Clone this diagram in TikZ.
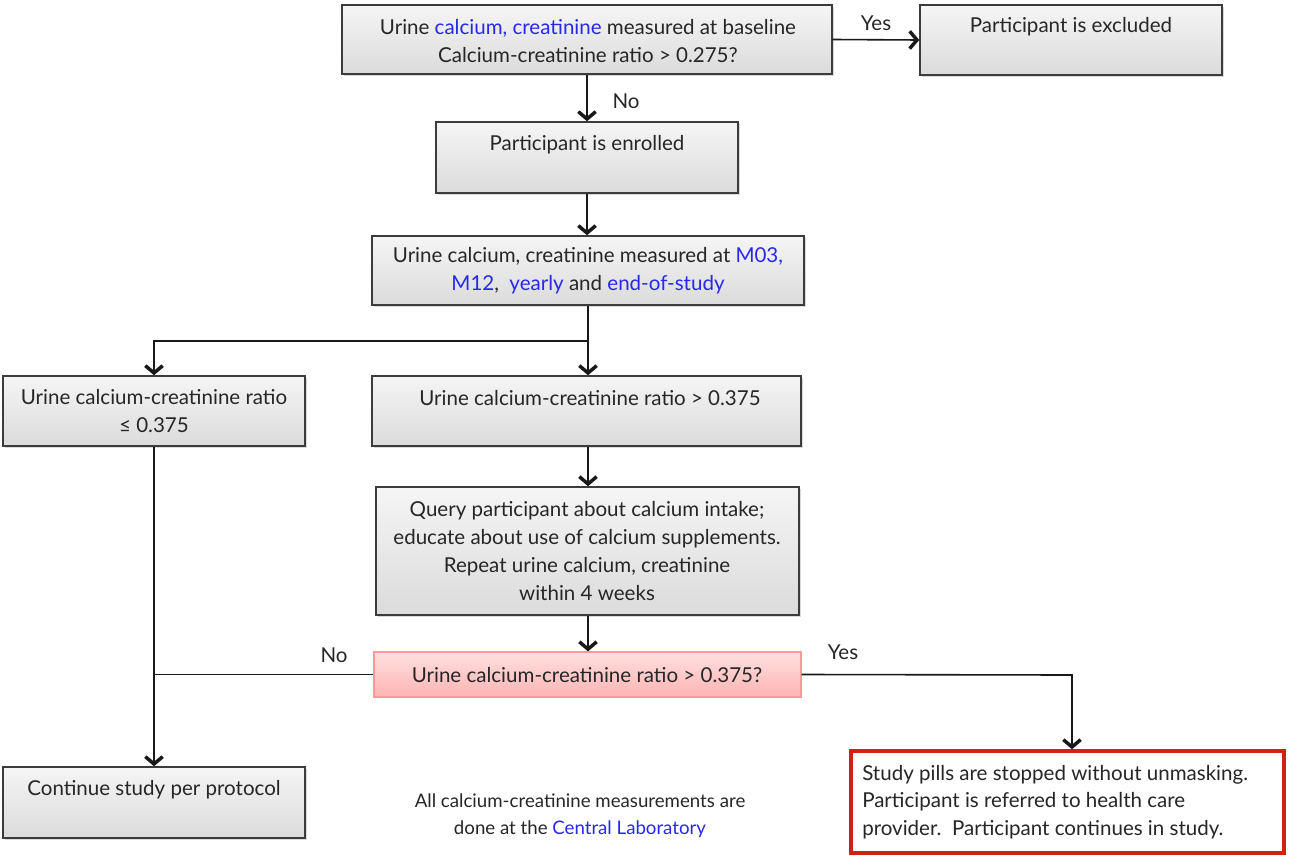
\documentclass[tikz,border=0pt]{standalone}
\usepackage{fontspec}
\setmainfont{Lato}
\usetikzlibrary{arrows.meta,fit,shadows}
\definecolor{txtblue}{RGB}{40,40,235}
\definecolor{boxline}{RGB}{60,60,60}
\definecolor{redline}{RGB}{205,35,20}
\begin{document}
\begin{tikzpicture}[x=0.75pt,y=-0.75pt,
  box/.style={draw=boxline,line width=1.1pt,inner sep=0pt,top color=gray!8,bottom color=gray!28,
    drop shadow={opacity=0.3,shadow xshift=1.2pt,shadow yshift=-1.2pt}},
  pinkbox/.style={draw=red!40,line width=0.9pt,inner sep=0pt,top color=red!12,bottom color=red!30},
  redbox/.style={draw=redline,line width=2.6pt,inner sep=0pt,fill=white},
  txt/.style={font=\fontsize{15.4}{20.8}\selectfont,text=black!85,align=center,inner sep=0pt},
  conn/.style={line width=1.2pt,draw=black!90},
  arr/.style={conn,-{Straight Barb[length=5.5pt,width=13pt,line width=2.6pt]}},
  lbl/.style={font=\fontsize{15.4}{17}\selectfont,text=black!85,inner sep=0pt}]
\useasboundingbox (0,0) rectangle (1293,857);
% boxes
\node[box,fit={(342,5)(832,74)}] (base) {};
\node[box,fit={(920,5)(1222,75)}] (excl) {};
\node[box,fit={(436,122)(738,193)}] (enr) {};
\node[box,fit={(372,236)(804,305)}] (meas) {};
\node[box,fit={(3,376)(305,446)}] (low) {};
\node[box,fit={(372,376)(801,446)}] (high) {};
\node[box,fit={(376,487)(799,615)}] (query) {};
\node[pinkbox,fit={(374,652)(801,697)}] (rep) {};
\node[box,fit={(3,767)(305,838)}] (cont) {};
\node[redbox,fit={(851,751)(1284,853)}] (stop) {};
% texts
\node[txt] at (588,41) {Urine \textcolor{txtblue}{calcium, creatinine} measured at baseline\\Calcium-creatinine ratio > 0.275?};
\node[txt] at (1071,27) {Participant is excluded};
\node[txt] at (587,145) {Participant is enrolled};
\node[txt] at (588,271) {Urine calcium, creatinine measured at \textcolor{txtblue}{M03,}\\\textcolor{txtblue}{M12},\ \ \textcolor{txtblue}{yearly} and \textcolor{txtblue}{end-of-study}};
\node[txt] at (154,411) {Urine calcium-creatinine ratio\\≤ 0.375};
\node[txt] at (590,398) {Urine calcium-creatinine ratio > 0.375};
\node[txt] at (587,551) {Query participant about calcium intake;\\educate about use of calcium supplements.\\Repeat urine calcium, creatinine\\within 4 weeks};
\node[txt] at (587,675) {Urine calcium-creatinine ratio > 0.375?};
\node[txt] at (154,790) {Continue study per protocol};
\node[txt,anchor=west,align=left] at (862,802) {Study pills are stopped without unmasking.\\Participant is referred to health care\\provider.\ \ Participant continues in study.};
\node[txt,font=\fontsize{14}{20}\selectfont] (note) at (580,816) {All calcium-creatinine measurements are\\done at the \textcolor{txtblue}{Central Laboratory}};
% connectors
\draw[arr] (base.east) -- (excl.west) node[lbl,pos=0.5,above=6pt] {Yes};
\draw[arr] (base.south -| enr.north) -- (enr.north);
\node[lbl] at (626,101) {No};
\draw[arr] (enr.south) -- (enr.south |- meas.north);
\coordinate (split) at (588,341);
\draw[conn] (meas.south -| split) -- (split);
\draw[arr] (split) -- (split |- high.north);
\draw[arr] (split) -| (low.north);
\draw[arr] (low.south) -- (cont.north);
\draw[arr] (high.south -| split) -- (split |- query.north);
\draw[arr] (query.south -| split) -- (split |- rep.north);
\draw[conn] (rep.west) -- (rep.west -| low.south);
\node[lbl] at (334,655) {No};
\coordinate (ry) at (1072,675);
\draw[arr] (rep.east) -- (ry) -- (ry |- stop.north);
\node[lbl] at (843,652) {Yes};
\end{tikzpicture}
\end{document}
